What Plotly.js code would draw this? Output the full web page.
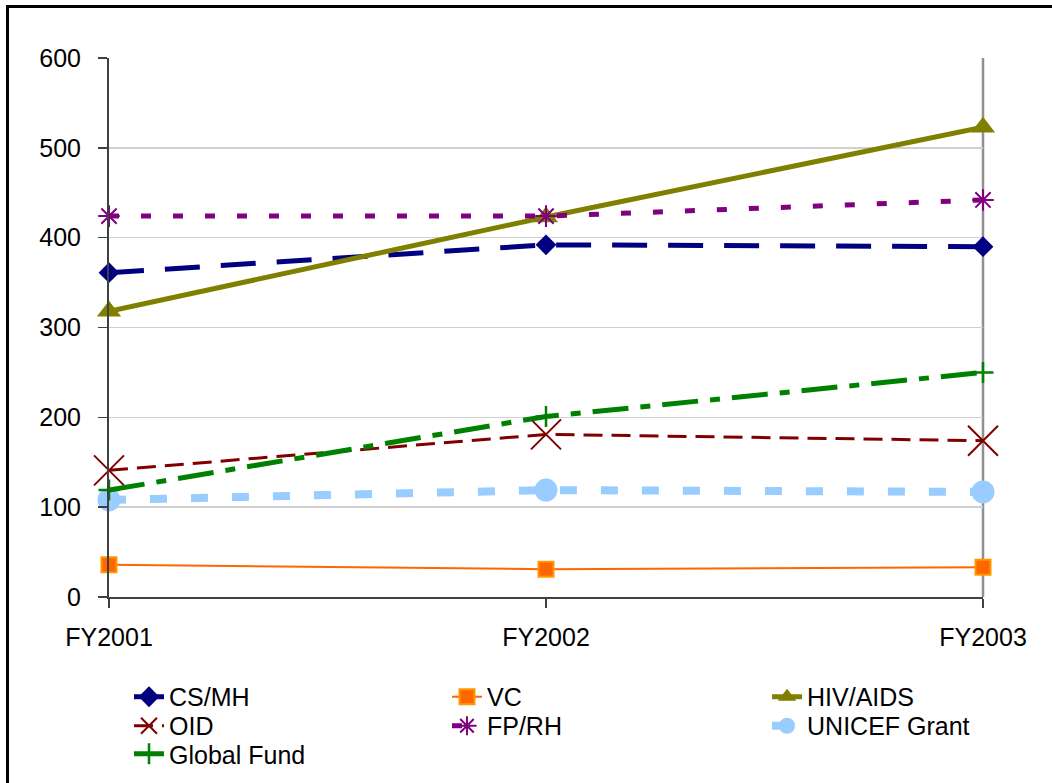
<!DOCTYPE html>
<html>
<head>
<meta charset="utf-8">
<script src="https://cdn.plot.ly/plotly-3.0.1.min.js"></script>
<style>
  html, body { margin: 0; padding: 0; background: #fff; }
  #chart { width: 1052px; height: 783px; }
  #frame { position: absolute; left: 6px; top: 5px; width: 1100px; height: 800px;
           border-left: 3px solid #000; border-top: 3px solid #000; pointer-events: none; }
</style>
</head>
<body>
<div id="chart"></div>
<div id="frame"></div>
<script>
// ---- data ----
const years = ["FY2001", "FY2002", "FY2003"];
const csmh = [361, 392, 390];
const vc = [36, 31, 33];
const hivaids = [318, 423, 523];
const oid = [141, 181, 174];
const fprh = [424, 424, 442];
const unicef = [108, 119, 117];
const globalFund = [119, 201, 250];
const yTicks = [0, 100, 200, 300, 400, 500, 600];

const traces = [
  { name: "CS/MH", y: csmh, legend: "legend", line: { color: "#000080", width: 5, dash: "35px,21px" },
    marker: { symbol: "diamond", size: 16, color: "#000080" } },
  { name: "VC", y: vc, legend: "legend2", line: { color: "#FF6600", width: 2 },
    marker: { symbol: "square", size: 15, color: "#FF6600", line: { color: "#FF9900", width: 2 } } },
  { name: "HIV/AIDS", y: hivaids, legend: "legend3", line: { color: "#808000", width: 5 },
    marker: { symbol: "triangle-up", size: 21, color: "#808000" } },
  { name: "OID", y: oid, legend: "legend4", line: { color: "#800000", width: 3, dash: "19px,9px" },
    marker: { symbol: "x-thin-open", size: 30, color: "#800000", line: { color: "#800000", width: 2 } } },
  { name: "FP/RH", y: fprh, legend: "legend5", line: { color: "#800080", width: 5, dash: "10px,22px" },
    marker: { symbol: "asterisk-open", size: 18, color: "#800080", line: { color: "#800080", width: 2 } } },
  { name: "UNICEF Grant", y: unicef, legend: "legend6", line: { color: "#99CCFF", width: 8, dash: "17px,24px" },
    marker: { symbol: "circle", size: 23, color: "#99CCFF" } },
  { name: "Global Fund", y: globalFund, legend: "legend7", line: { color: "#008000", width: 5, dash: "36px,12px,10px,12px" },
    marker: { symbol: "cross-thin-open", size: 15, color: "#008000", line: { color: "#008000", width: 2.5 } } }
].map(t => Object.assign({ type: "scatter", mode: "lines+markers", x: years, cliponaxis: false }, t));

const font = { family: "Liberation Sans, Arial, sans-serif", size: 25, color: "#000" };
const legendFont = { family: "Liberation Sans, Arial, sans-serif", size: 25, color: "#000" };

// legend slot positions (paper fractions of the plot area)
const colX = [0.0229, 0.3867, 0.7529];
const rowY = [-0.1855, -0.2393, -0.2913];
function legendAt(col, row) {
  return { x: colX[col], xanchor: "left", y: rowY[row], yanchor: "middle",
           font: legendFont, bgcolor: "rgba(0,0,0,0)", orientation: "v" };
}

const layout = {
  width: 1052, height: 783,
  margin: { l: 109, r: 69, t: 58, b: 186, autoexpand: false },
  paper_bgcolor: "#fff", plot_bgcolor: "#fff",
  font: font,
  showlegend: true,
  xaxis: {
    type: "category", range: [0, 2],
    showgrid: false, zeroline: false,
    showline: true, linecolor: "#404040", linewidth: 2,
    ticks: "outside", ticklen: 9, tickwidth: 1.5, tickcolor: "#404040",
    ticklabelstandoff: 8,
    tickfont: font
  },
  yaxis: {
    range: [0, 600], tickvals: yTicks, ticktext: yTicks.map(String),
    showgrid: true, gridcolor: "#D0D0D0", gridwidth: 1.5,
    zeroline: false,
    showline: true, linecolor: "#404040", linewidth: 2,
    ticks: "outside", ticklen: 9, tickwidth: 1.5, tickcolor: "#404040",
    ticklabelstandoff: 12,
    tickfont: font
  },
  shapes: [
    { type: "line", xref: "paper", yref: "paper", x0: 1, x1: 1, y0: 0, y1: 1,
      line: { color: "#909090", width: 2.5 }, layer: "below" }
  ],
  legend: legendAt(0, 0),
  legend2: legendAt(1, 0),
  legend3: legendAt(2, 0),
  legend4: legendAt(0, 1),
  legend5: legendAt(1, 1),
  legend6: legendAt(2, 1),
  legend7: legendAt(0, 2)
};

Plotly.newPlot("chart", traces, layout, { displayModeBar: false, staticPlot: true });
</script>
</body>
</html>
